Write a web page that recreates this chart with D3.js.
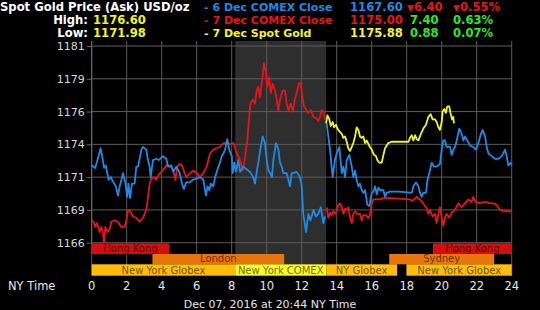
<!DOCTYPE html>
<html>
<head>
<meta charset="utf-8">
<script src="https://cdn.jsdelivr.net/npm/d3@7"></script>
<style>
  body { margin: 0; background: #000; }
  svg { display: block; font-family: "DejaVu Sans", Verdana, sans-serif; }
</style>
</head>
<body>
<div id="chart"></div>
<script>
// Data (hours in NY time, USD/oz); null = gap
var blueHours = [0,0.2,0.35,0.51,0.6,0.7,0.8,0.97,1.1,1.2,1.38,1.5,1.6,1.7,1.79,1.92,2.03,2.1,2.19,2.3,2.45,2.55,2.65,2.84,2.93,3.12,3.2,3.31,3.37,3.5,3.7,3.83,4.07,4.26,4.36,4.55,4.65,4.84,5.03,5.16,5.27,5.4,5.6,5.8,6.0,6.19,6.38,6.53,6.62,6.72,6.81,6.95,7.05,7.24,7.33,7.43,7.52,7.62,7.75,7.86,8.0,8.06,8.15,8.25,8.38,8.48,8.66,8.85,9.04,9.23,9.33,9.42,9.52,9.66,9.77,9.9,10.0,10.1,10.2,10.3,10.38,10.53,10.67,10.76,10.86,10.95,11.14,11.24,11.33,11.43,11.52,11.71,11.9,12.0,12.09,12.25,12.38,12.5,12.67,12.81,12.95,13.09,13.24,13.33,
  13.38,
  13.43,13.52,13.62,13.71,13.77,13.9,14.0,14.15,14.22,14.29,14.38,14.48,14.57,14.72,14.86,14.95,15.05,15.14,15.24,15.33,15.43,15.52,15.62,15.75,15.87,16.0,16.1,16.19,16.29,16.38,16.48,16.67,16.76,16.86,17.05,17.6,18.29,18.38,18.53,18.67,18.76,18.86,18.95,19.1,19.19,19.29,19.43,19.56,19.71,19.9,20.0,20.09,20.19,20.28,20.48,20.57,20.67,20.76,20.86,21.0,21.14,21.24,21.33,21.46,21.62,21.81,21.96,22.1,22.24,22.34,22.48,22.57,22.67,22.86,23.05,23.24,23.43,23.62,23.71,23.81,23.95,24.0];
var blueValues = [1171.9,1171.7,1172.4,1173.2,1172.6,1171.7,1171.9,1170.8,1171.0,1170.7,1170.3,1169.6,1170.3,1170.8,1171.3,1170.6,1169.5,1170.5,1169.4,1170.5,1170.5,1171.8,1171.8,1173.1,1173.3,1173.1,1172.4,1171.8,1171.0,1172.3,1172.4,1172.3,1172.6,1172.4,1171.8,1171.9,1171.4,1171.8,1171.3,1170.5,1170.1,1170.6,1170.6,1170.8,1170.9,1171.0,1170.8,1169.6,1170.3,1170.0,1170.5,1170.3,1171.0,1171.8,1172.1,1172.6,1172.8,1173.1,1173.9,1173.1,1172.6,1171.3,1172.1,1171.4,1172.3,1171.4,1171.8,1171.6,1171.4,1171.0,1170.5,1171.3,1172.1,1173.3,1174.1,1173.6,1172.3,1171.5,1171.3,1171.0,1172.3,1173.6,1173.1,1172.1,1171.8,1171.3,1171.3,1170.8,1170.3,1171.3,1171.3,1171.4,1171.0,1170.3,1168.2,1166.8,1168.2,1167.7,1168.5,1168.0,1168.2,1168.7,1167.5,1168.0,
  null,
  1175.1,1174.1,1173.1,1171.8,1171.0,1172.3,1172.8,1173.3,1172.3,1171.3,1171.8,1171.0,1172.3,1172.7,1171.8,1171.0,1171.5,1170.8,1170.3,1170.5,1170.0,1169.8,1170.0,1168.9,1168.8,1169.8,1169.9,1170.3,1169.7,1170.2,1170.0,1170.0,1169.5,1169.8,1169.9,1169.9,1169.8,1170.3,1170.6,1170.3,1169.8,1169.5,1169.8,1169.8,1170.8,1171.3,1172.1,1171.8,1171.8,1172.0,1173.1,1173.8,1173.8,1173.3,1173.3,1172.7,1173.1,1173.3,1173.8,1174.7,1174.3,1173.8,1174.1,1173.8,1173.4,1173.3,1173.1,1173.6,1174.3,1174.6,1174.1,1173.3,1172.8,1172.6,1172.4,1172.4,1172.6,1173.1,1172.6,1171.9,1172.1,1171.9];

var redHours = [0,0.1,0.2,0.3,0.46,0.55,0.65,0.7,0.78,0.9,1.02,1.12,1.31,1.5,1.69,1.88,1.98,2.07,2.17,2.36,2.55,2.74,2.93,3.12,3.22,3.31,3.41,3.6,3.69,3.79,3.98,4.17,4.32,4.46,4.6,4.7,4.78,4.89,5.03,5.16,5.31,5.41,5.62,5.81,6.0,6.19,6.38,6.57,6.76,6.95,7.14,7.33,7.52,7.71,7.9,8.1,8.29,8.48,8.63,8.76,8.89,9.0,9.07,9.2,9.33,9.43,9.52,9.62,9.71,9.85,9.96,10.04,10.15,10.23,10.34,10.47,10.57,10.66,10.76,10.91,11.05,11.14,11.24,11.37,11.49,11.62,11.75,11.86,11.95,12.03,12.13,12.28,12.38,12.52,12.67,12.81,12.95,13.05,13.14,13.24,13.33,
  13.38,
  13.43,13.52,13.62,13.71,13.81,13.9,14.0,14.09,14.19,14.29,14.38,14.48,14.57,14.67,14.76,14.86,14.95,15.05,15.14,15.33,15.43,15.52,15.67,15.81,15.9,16.0,16.1,16.29,16.48,16.67,17.05,18.2,18.29,18.43,18.57,18.76,18.95,19.14,19.24,19.33,19.48,19.62,19.71,19.81,19.9,20.0,20.09,20.19,20.28,20.43,20.57,20.76,20.95,21.14,21.33,21.52,21.71,21.8,21.95,22.19,22.38,22.57,22.76,22.95,23.14,23.33,23.62,23.9,24.0];
var redValues = [1167.7,1167.6,1167.2,1167.5,1166.8,1167.2,1166.7,1166.0,1167.2,1166.8,1167.0,1167.6,1167.7,1167.6,1167.2,1167.2,1167.7,1168.4,1168.5,1168.0,1167.9,1167.6,1167.9,1168.5,1169.5,1170.5,1170.9,1171.0,1170.8,1171.1,1171.4,1171.7,1172.0,1171.8,1171.7,1171.3,1170.8,1171.8,1172.0,1171.9,1171.3,1171.0,1171.3,1171.5,1171.3,1171.0,1171.3,1171.8,1172.8,1173.1,1173.2,1173.3,1173.6,1173.6,1173.5,1173.6,1172.8,1172.3,1171.5,1172.5,1173.8,1175.6,1176.6,1176.9,1176.6,1177.6,1177.9,1177.1,1178.1,1179.7,1178.9,1177.9,1178.6,1177.4,1178.1,1177.6,1176.9,1176.1,1176.9,1177.6,1177.6,1176.6,1176.1,1176.6,1176.0,1177.0,1177.6,1178.2,1178.1,1177.2,1176.4,1176.1,1175.9,1176.1,1175.6,1175.5,1175.3,1175.6,1176.1,1176.0,1175.4,
  null,
  1168.7,1167.9,1168.3,1168.1,1168.4,1168.2,1168.4,1168.9,1169.0,1168.7,1168.2,1168.6,1168.5,1168.7,1167.9,1167.5,1168.2,1168.4,1168.2,1168.2,1167.7,1168.1,1168.1,1167.9,1168.1,1169.0,1169.3,1169.3,1169.3,1169.4,1169.4,1169.3,1169.2,1169.3,1169.5,1169.3,1169.0,1168.6,1168.2,1168.5,1168.0,1168.2,1167.5,1168.2,1168.7,1167.9,1167.3,1167.9,1168.2,1167.9,1168.3,1168.5,1169.0,1168.7,1169.0,1169.3,1169.1,1169.5,1169.1,1169.0,1169.1,1169.1,1169.0,1169.0,1168.9,1168.5,1168.4,1168.4,1168.4];

var yellowHours = [13.39,13.47,13.58,13.66,13.77,13.85,13.96,14.04,14.15,14.29,14.38,14.48,14.57,14.66,14.76,14.86,14.95,15.05,15.14,15.24,15.33,15.43,15.52,15.62,15.71,15.9,16.0,16.13,16.25,16.32,16.44,16.57,16.67,16.76,16.95,17.14,18.1,18.19,18.29,18.38,18.48,18.57,18.67,18.81,18.95,19.1,19.24,19.37,19.48,19.62,19.71,19.81,19.9,20.0,20.05,20.15,20.24,20.32,20.43,20.5,20.59,20.66,20.7];
var yellowValues = [1175.1,1175.7,1175.4,1174.9,1175.2,1174.8,1175.0,1174.7,1174.5,1174.3,1174.0,1174.1,1173.7,1173.2,1173.0,1173.3,1173.6,1174.1,1174.8,1174.6,1174.1,1174.0,1174.1,1173.6,1173.8,1173.3,1173.1,1172.7,1172.6,1172.3,1172.1,1172.1,1172.7,1173.2,1173.6,1173.7,1173.7,1174.0,1174.2,1173.8,1174.2,1173.9,1173.8,1174.3,1174.7,1175.0,1175.6,1175.8,1175.4,1175.4,1175.2,1174.8,1174.6,1175.2,1176.0,1176.2,1175.9,1176.4,1176.4,1175.9,1175.4,1175.6,1175.1];

var yTicks = [1166, 1168.5, 1171, 1173.5, 1176, 1178.5, 1181];
var xTicks = [0, 2, 4, 6, 8, 10, 12, 14, 16, 18, 20, 22, 24];

// trading sessions: name, start hour, end hour, row
var sessionNames = ["Hong Kong", "Hong Kong", "London", "Sydney", "New York Globex", "New York COMEX", "NY Globex", "New York Globex"];
var sessionStart = [0, 19.5, 3.47, 17, 0, 8.2, 13.4, 18];
var sessionEnd   = [4.43, 24, 11, 23, 8.2, 13.4, 17.45, 24];
var sessionRow   = [0, 0, 1, 1, 2, 2, 2, 2];
var comexStart = 8.2, comexEnd = 13.4;

var headerLeft = [["High:", "1176.60"], ["Low:", "1171.98"]];
var legendNames = ["- 6 Dec COMEX Close", "- 7 Dec COMEX Close", "- 7 Dec Spot Gold"];
var legendPrice = ["1167.60", "1175.00", "1175.88"];
var legendChange = ["6.40", "7.40", "0.88"];
var legendPct = ["0.55%", "0.63%", "0.07%"];
var legendDown = [true, false, false];

var w = 540, h = 310;
var svg = d3.select("#chart").append("svg").attr("width", w).attr("height", h);

var x = d3.scaleLinear().domain([0, 24]).range([91.7, 511.7]);
var y = d3.scaleLinear().domain([1166, 1181]).range([242.7, 46]);
var plotTop = 41;
var rowTop = [243.3, 254, 264.3], rowH = [10.7, 10.3, 11.4];
var bandBottom = 275.7;

var lineColor = { blue: "#1e8ae6", red: "#e8141a", yellow: "#f5f51e" };
var sessionColor = { "Hong Kong": "#d40e0e", "London": "#e8740c", "Sydney": "#e8760c",
  "New York Globex": "#fdbd0a", "NY Globex": "#fdbd0a", "New York COMEX": "#fafa2c" };

// COMEX shaded hours
svg.append("rect")
  .attr("x", x(comexStart)).attr("y", plotTop)
  .attr("width", x(comexEnd) - x(comexStart))
  .attr("height", rowTop[2] - plotTop)
  .attr("fill", "#2e2e2e");

// grid
svg.selectAll("line.vgrid").data(xTicks).enter().append("line")
  .attr("x1", d => x(d)).attr("x2", d => x(d))
  .attr("y1", plotTop).attr("y2", bandBottom)
  .attr("stroke", "#5c5c5c").attr("stroke-width", 1);
svg.selectAll("line.hgrid").data(yTicks).enter().append("line")
  .attr("x1", x(0)).attr("x2", x(24))
  .attr("y1", d => y(d)).attr("y2", d => y(d))
  .attr("stroke", "#5c5c5c").attr("stroke-width", 1);

// y axis
var yAxis = d3.axisLeft(y).tickValues(yTicks).tickSize(5).tickPadding(2)
  .tickFormat(d => Math.round(d));
var gy = svg.append("g").attr("transform", "translate(" + x(0) + ",0)").call(yAxis);
gy.select(".domain").attr("stroke", "#6a6a6a").attr("d", "M0," + plotTop + "V" + y(1166));
gy.selectAll(".tick line").attr("stroke", "#6a6a6a");
gy.selectAll("text").attr("fill", "#d8d8d8").style("font-size", "11px")
  .style("font-family", "DejaVu Sans, sans-serif");

// lines
var line = d3.line()
  .defined(d => d[1] !== null)
  .x(d => x(d[0])).y(d => y(d[1]));

function drawSeries(hours, values, color) {
  svg.append("path")
    .datum(d3.zip(hours, values))
    .attr("d", line)
    .attr("fill", "none")
    .attr("stroke", color)
    .attr("stroke-width", 1.8)
    .attr("stroke-linejoin", "round");
}
drawSeries(redHours, redValues, lineColor.red);
drawSeries(blueHours, blueValues, lineColor.blue);
drawSeries(yellowHours, yellowValues, lineColor.yellow);

// session bands
var sessions = sessionNames.map((n, i) => ({ name: n, s: sessionStart[i], e: sessionEnd[i], row: sessionRow[i] }));
var bands = svg.selectAll("g.band").data(sessions).enter().append("g");
bands.append("rect")
  .attr("x", d => x(d.s)).attr("y", d => rowTop[d.row])
  .attr("width", d => x(d.e) - x(d.s)).attr("height", d => rowH[d.row])
  .attr("fill", d => sessionColor[d.name]);
bands.append("text")
  .attr("x", d => (x(d.s) + x(d.e)) / 2)
  .attr("y", d => rowTop[d.row] + rowH[d.row] - 2)
  .attr("text-anchor", "middle")
  .attr("fill", "#000").attr("fill-opacity", 0.6)
  .style("font-size", "10px")
  .text(d => d.name);

// x axis labels
svg.selectAll("text.xl").data(xTicks).enter().append("text")
  .attr("x", d => x(d)).attr("y", 290)
  .attr("text-anchor", "middle")
  .attr("fill", "#e6e6e6").style("font-size", "11.5px")
  .text(d => d);
svg.append("text").attr("x", 8).attr("y", 290)
  .attr("fill", "#e6e6e6").style("font-size", "11.5px").text("NY Time");
svg.append("text").attr("x", 270).attr("y", 308).attr("text-anchor", "middle")
  .attr("fill", "#e6e6e6").style("font-size", "11px").text("Dec 07, 2016 at 20:44 NY Time");

// header
var head = svg.append("g").style("font-weight", "bold").style("font-size", "11.6px");
head.append("text").attr("x", 0).attr("y", 11).attr("fill", "#fff").text("Spot Gold Price (Ask) USD/oz");
headerLeft.forEach(function (r, i) {
  head.append("text").attr("x", 88).attr("y", 24 + i * 13).attr("text-anchor", "end")
    .attr("fill", "#fff").text(r[0]);
  head.append("text").attr("x", 93).attr("y", 24 + i * 13).attr("fill", "#f5f51e").text(r[1]);
});
var legColors = [lineColor.blue, lineColor.red, lineColor.yellow];
legendNames.forEach(function (n, i) {
  var yy = 11 + i * 13;
  var chgColor = legendDown[i] ? "#e8141a" : "#2ee62e";
  head.append("text").attr("x", 204).attr("y", yy).attr("fill", legColors[i])
    .style("font-size", "11px").text(n);
  head.append("text").attr("x", 350).attr("y", yy).attr("fill", legColors[i]).text(legendPrice[i]);
  var c = head.append("text").attr("x", legendDown[i] ? 407 : 410).attr("y", yy).attr("fill", chgColor);
  if (legendDown[i]) c.append("tspan").style("font-size", "9px").text("\u25BC");
  c.append("tspan").text(legendChange[i]);
  var p = head.append("text").attr("x", 453).attr("y", yy).attr("fill", chgColor);
  if (legendDown[i]) p.append("tspan").style("font-size", "9px").text("\u25BC");
  p.append("tspan").text(legendPct[i]);
});
</script>
</body>
</html>
